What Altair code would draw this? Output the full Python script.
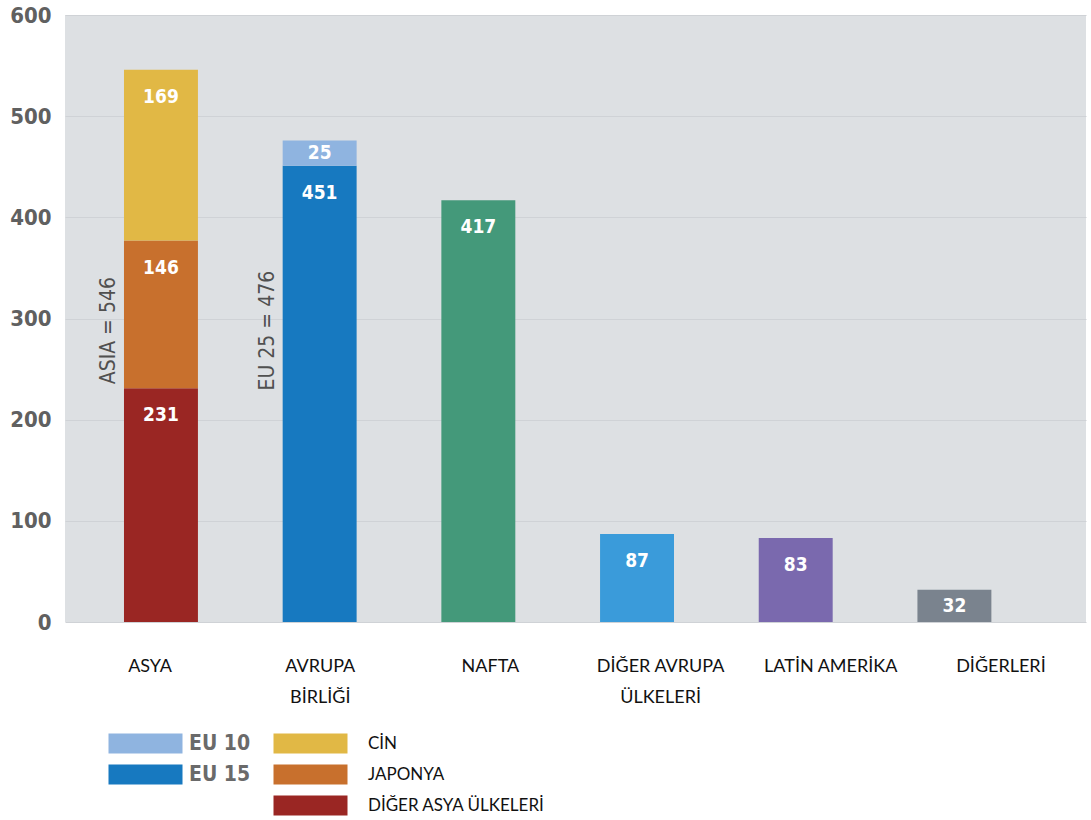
import altair as alt
import pandas as pd
import numpy as np

# ---- data ----
categories = ["ASYA", "AVRUPA BİRLİĞİ", "NAFTA", "DİĞER AVRUPA ÜLKELERİ", "LATİN AMERİKA", "DİĞERLERİ"]
tick_labels = ["ASYA", "AVRUPA\nBİRLİĞİ", "NAFTA", "DİĞER AVRUPA\nÜLKELERİ", "LATİN AMERİKA", "DİĞERLERİ"]

asia_segments = ["DİĞER ASYA ÜLKELERİ", "JAPONYA", "CİN"]      # bottom -> top
asia_values = [231, 146, 169]
asia_colors = ["#9a2623", "#c8702d", "#e1b845"]

eu_segments = ["EU 15", "EU 10"]                                 # bottom -> top
eu_values = [451, 25]
eu_colors = ["#1779c0", "#8fb4e0"]

other_categories = ["NAFTA", "DİĞER AVRUPA ÜLKELERİ", "LATİN AMERİKA", "DİĞERLERİ"]
other_values = [417, 87, 83, 32]
other_colors = ["#44997a", "#3a9bda", "#7a69ae", "#7a838e"]

annotation_categories = ["ASYA", "AVRUPA BİRLİĞİ"]
annotation_texts = ["ASIA = 546", "EU 25 = 476"]
annotation_y = [288, 288]

# ---- tables ----
def stacked(cat, segs, vals):
    end = np.cumsum(vals)
    start = end - np.array(vals)
    return pd.DataFrame({"cat": cat, "seg": segs, "value": vals, "start": start, "end": end})

df_asia = stacked("ASYA", asia_segments, asia_values)
df_eu = stacked("AVRUPA BİRLİĞİ", eu_segments, eu_values)
df_oth = pd.DataFrame({"cat": other_categories, "seg": other_categories, "value": other_values,
                       "start": 0, "end": other_values})
df_all = pd.concat([df_asia, df_eu, df_oth], ignore_index=True)
df_all["label_y"] = np.maximum(df_all["end"] - 26.7, (df_all["start"] + df_all["end"]) / 2)

df_ann = pd.DataFrame({"cat": annotation_categories, "text": annotation_texts, "ypos": annotation_y})
df_ticks = pd.DataFrame({"label": tick_labels})

W, H = 1021, 607
COND = "DejaVu Sans Condensed, Liberation Sans Narrow, Roboto Condensed, sans-serif"

xscale = alt.Scale(type="band", domain=categories, paddingInner=0.534, paddingOuter=0.484, align=0.384)
yscale = alt.Scale(domain=[0, 600], nice=False, zero=True)
yaxis = alt.Axis(title=None, values=[0, 100, 200, 300, 400, 500, 600], ticks=False, domain=False,
                 labelFont=COND, labelFontSize=22, labelFontWeight="bold", labelColor="#606060",
                 labelPadding=14, grid=True, gridColor="#cfd2d6", gridWidth=1.2)

X = lambda: alt.X("cat:N", scale=xscale, axis=None)

bar_path = "M-7.4,-2H7.4V2H-7.4Z"

asia_bars = alt.Chart(df_asia).mark_bar().encode(
    x=X(),
    y=alt.Y("start:Q", scale=yscale, axis=yaxis),
    y2="end:Q",
    color=alt.Color("seg:N", scale=alt.Scale(domain=asia_segments, range=asia_colors),
                    legend=alt.Legend(orient="none", legendX=237, legendY=720, title=None,
                                      values=["CİN", "JAPONYA", "DİĞER ASYA ÜLKELERİ"],
                                      symbolType=bar_path, symbolSize=100, symbolStrokeWidth=0,
                                      symbolOpacity=1, labelFont="Lato", labelFontSize=17,
                                      labelColor="#111111", labelOffset=49, rowPadding=10,
                                      padding=0, labelLimit=400)),
)

eu_bars = alt.Chart(df_eu).mark_bar().encode(
    x=X(),
    y=alt.Y("start:Q", scale=yscale, axis=yaxis),
    y2="end:Q",
    color=alt.Color("seg:N", scale=alt.Scale(domain=["EU 10", "EU 15"], range=[eu_colors[1], eu_colors[0]]),
                    legend=alt.Legend(orient="none", legendX=70, legendY=718, title=None,
                                      values=["EU 10", "EU 15"],
                                      symbolType=bar_path, symbolSize=100, symbolStrokeWidth=0,
                                      symbolOpacity=1, labelFont=COND, labelFontSize=21,
                                      labelFontWeight="bold", labelColor="#6a6a6a",
                                      labelOffset=33, rowPadding=9, padding=0)),
)

other_bars = alt.Chart(df_oth).mark_bar().encode(
    x=X(),
    y=alt.Y("start:Q", scale=yscale, axis=yaxis),
    y2="end:Q",
    color=alt.Color("seg:N", scale=alt.Scale(domain=other_categories, range=other_colors), legend=None),
)

value_labels = alt.Chart(df_all).mark_text(
    color="white", font=COND, fontSize=19, fontWeight="bold", baseline="middle", align="center"
).encode(
    x=X(),
    y=alt.Y("label_y:Q", scale=yscale, axis=yaxis),
    text="value:Q",
)

annotations = alt.Chart(df_ann).mark_text(
    color="#505050", font=COND, fontSize=21, angle=270, baseline="bottom",
    align="center", dy=-5
).encode(
    x=alt.X("cat:N", scale=xscale, axis=None, bandPosition=0),
    y=alt.Y("ypos:Q", scale=yscale, axis=yaxis),
    text="text:N",
)

tick_layer = alt.Chart(df_ticks).mark_text(opacity=0, text="").encode(
    x=alt.X("label:N", sort=tick_labels,
            scale=alt.Scale(type="band", domain=tick_labels, paddingInner=0.5, paddingOuter=0.25),
            axis=alt.Axis(title=None, ticks=False, domain=False, grid=False, labelAngle=0,
                          labelExpr="split(datum.label, '\\n')", labelFont="Lato",
                          labelFontSize=18, labelColor="#111111", labelPadding=35,
                          labelLineHeight=31, labelLimit=300)),
)

chart = alt.layer(
    asia_bars, eu_bars, other_bars, value_labels, annotations, tick_layer
).resolve_scale(
    x="independent", color="independent"
).properties(
    width=W, height=H, autosize="none",
    padding={"left": 65, "top": 15, "right": 5, "bottom": 198},
    background="white",
).configure_view(
    fill="#dde0e3", stroke=None
)

chart.save("out.html", embed_options={"renderer": "svg", "actions": False})
